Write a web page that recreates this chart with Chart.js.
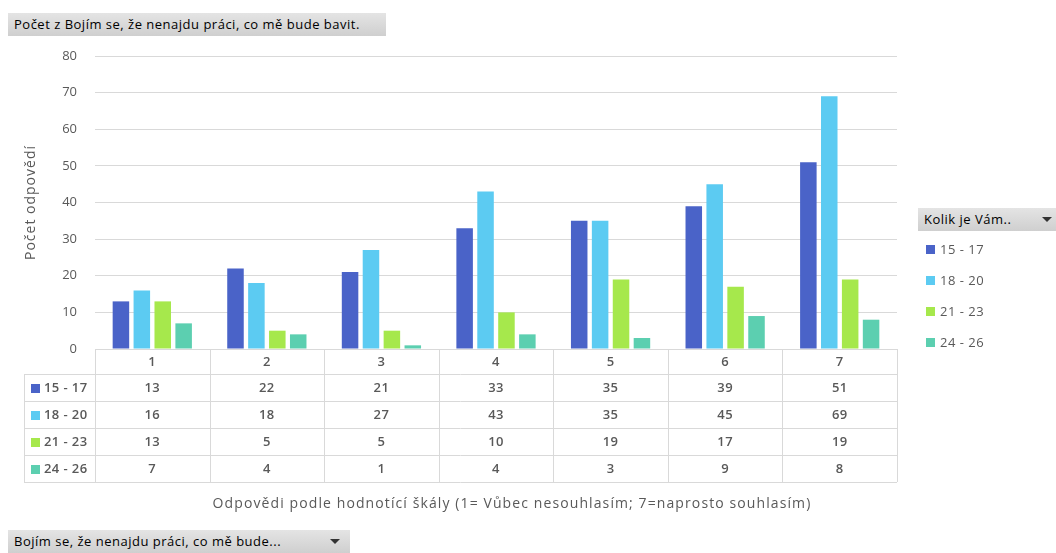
<!DOCTYPE html>
<html>
<head>
<meta charset="utf-8">
<script src="https://cdn.jsdelivr.net/npm/chart.js@4"></script>
<style>
  body { margin: 0; background: #fff; font-family: "Open Sans", sans-serif; }
  #wrap { position: relative; width: 1056px; height: 553px; }
  canvas { position: absolute; left: 0; top: 0; }
  .chip {
    position: absolute; height: 23px; line-height: 23px; font-size: 13px; color: #000;
    background: linear-gradient(#e4e4e4, #cfcfcf); padding-left: 6px; box-sizing: border-box;
    white-space: nowrap; letter-spacing: 0.5px;
  }
  .arrow { position: absolute; top: 9px; width: 0; height: 0;
    border-left: 5px solid transparent; border-right: 5px solid transparent; border-top: 5px solid #333; }
  #legend { position: absolute; left: 926px; top: 240px; font-size: 13px; color: #595959; letter-spacing: 0.5px; }
  #legend div { height: 31px; line-height: 18px; }
  #legend span { display: inline-block; width: 9px; height: 9px; margin-right: 5px; }
</style>
</head>
<body>
<div id="wrap">
  <canvas id="grafico" width="1056" height="553"></canvas>
  <div class="chip" style="left:8px; top:13px; width:378px;">Počet z  Bojím se, že nenajdu práci, co mě bude bavit.</div>
  <div class="chip" style="left:918px; top:208px; width:138px;">Kolik je Vám..<div class="arrow" style="left:124px"></div></div>
  <div id="legend"></div>
  <div class="chip" style="left:8px; top:530px; width:342px;">Bojím se, že nenajdu práci, co mě bude...<div class="arrow" style="left:322px"></div></div>
</div>
<script>
// hodnoty z grafu
const kategorie = ['1', '2', '3', '4', '5', '6', '7'];
const vek = ['15 - 17', '18 - 20', '21 - 23', '24 - 26'];
const v15_17 = [13, 22, 21, 33, 35, 39, 51];
const v18_20 = [16, 18, 27, 43, 35, 45, 69];
const v21_23 = [13, 5, 5, 10, 19, 17, 19];
const v24_26 = [7, 4, 1, 4, 3, 9, 8];
const barvy = ['#4a63c8', '#5ccbf2', '#a6e84c', '#5ccfb0'];
const yTicks = [0, 10, 20, 30, 40, 50, 60, 70, 80];

const serie = [v15_17, v18_20, v21_23, v24_26];

// legenda vpravo
const legenda = document.getElementById('legend');
vek.forEach((v, i) => {
  legenda.innerHTML += `<div><span style="background:${barvy[i]}"></span>${v}</div>`;
});

// tabulka dat pod grafem + popisky os
const tabulkaPlugin = {
  id: 'tabulka',
  afterDraw(chart) {
    const ctx = chart.ctx;
    const x = chart.scales.x;
    const area = chart.chartArea;
    const sirka = (area.right - area.left) / kategorie.length;
    const top = area.bottom;
    const h0 = 25, h = 27;
    const levy = 24;
    ctx.save();
    ctx.strokeStyle = '#d9d9d9';
    ctx.lineWidth = 1;
    // horizontalni cary
    ctx.beginPath();
    ctx.moveTo(area.left, top + 0.5); ctx.lineTo(area.right, top + 0.5);
    for (let r = 0; r <= serie.length; r++) {
      const y = Math.round(top + h0 + r * h) + 0.5;
      ctx.moveTo(levy, y); ctx.lineTo(area.right, y);
    }
    // svisle cary
    ctx.moveTo(levy + 0.5, top + h0); ctx.lineTo(levy + 0.5, top + h0 + serie.length * h);
    for (let c = 0; c <= kategorie.length; c++) {
      const xx = Math.round(area.left + c * sirka) + 0.5;
      ctx.moveTo(xx, top); ctx.lineTo(xx, top + h0 + serie.length * h);
    }
    ctx.stroke();

    ctx.font = '600 13px "Open Sans"';
    ctx.letterSpacing = '0.4px';
    ctx.fillStyle = '#595959';
    ctx.textAlign = 'center';
    ctx.textBaseline = 'middle';
    kategorie.forEach((k, i) => {
      ctx.fillText(k, x.getPixelForValue(i), top + h0 / 2 + 1);
    });
    serie.forEach((s, r) => {
      const yc = top + h0 + r * h + h / 2 + 1;
      s.forEach((v, i) => ctx.fillText(String(v), x.getPixelForValue(i), yc));
      ctx.fillStyle = barvy[r];
      ctx.fillRect(31, Math.round(yc - 5), 9, 9);
      ctx.fillStyle = '#595959';
      ctx.textAlign = 'left';
      ctx.fillText(vek[r], 44, yc);
      ctx.textAlign = 'center';
    });

    ctx.font = '14px "Open Sans"';
    ctx.letterSpacing = '1.1px';
    ctx.fillText('Odpovědi podle hodnotící škály (1= Vůbec nesouhlasím; 7=naprosto souhlasím)', 512, 504);

    // popisek osy y
    ctx.translate(31, (area.top + area.bottom) / 2);
    ctx.rotate(-Math.PI / 2);
    ctx.letterSpacing = '1px';
    ctx.fillText('Počet odpovědí', 0, 0);
    ctx.restore();
  }
};

new Chart(document.getElementById('grafico').getContext('2d'), {
  type: 'bar',
  data: {
    labels: kategorie,
    datasets: vek.map((v, i) => ({
      label: v,
      data: serie[i],
      backgroundColor: barvy[i],
      borderWidth: 0,
      categoryPercentage: 0.73,
      barPercentage: 0.79
    }))
  },
  options: {
    responsive: false,
    animation: false,
    layout: { padding: { left: 0, right: 159, top: 56, bottom: 204 } },
    plugins: { legend: { display: false }, tooltip: { enabled: false } },
    scales: {
      x: { display: false },
      y: {
        min: 0, max: 80,
        afterFit(scale) { scale.width = 95; },
        afterBuildTicks(scale) { scale.ticks = yTicks.map(v => ({ value: v })); },
        border: { display: false },
        grid: { color: '#d9d9d9', drawTicks: false },
        ticks: { color: '#595959', font: { family: 'Open Sans', size: 13 }, padding: 18 }
      }
    }
  },
  plugins: [tabulkaPlugin]
});
</script>
</body>
</html>
